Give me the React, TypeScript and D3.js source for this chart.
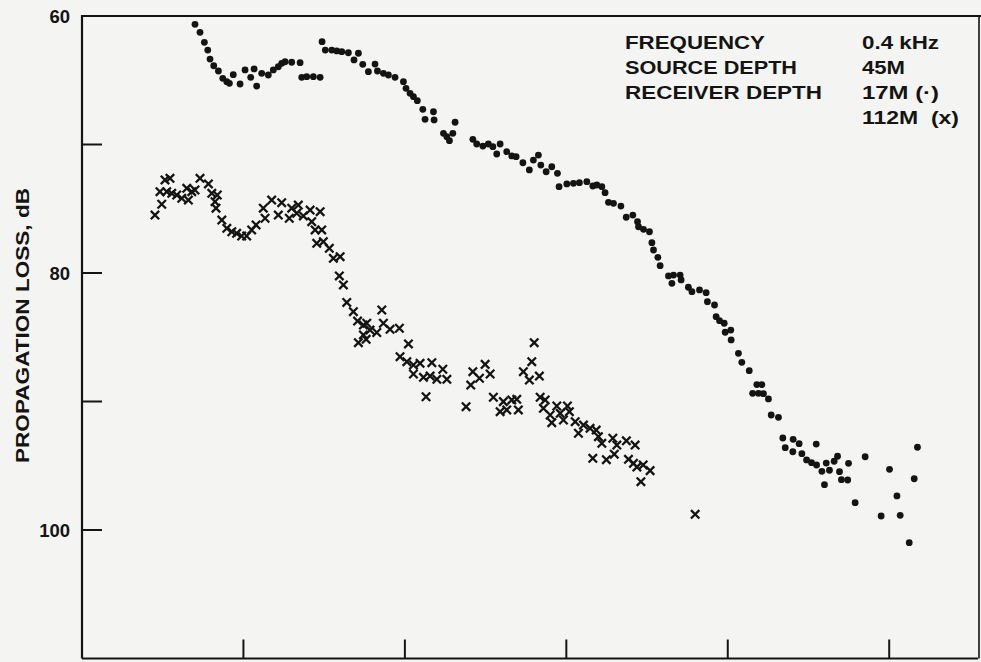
import React from "react";
import * as d3 from "d3";

const W = 981;
const H = 662;

// Receiver depth 17 m (dots): [range, propagation loss dB]
const dots17: [number, number][] = [
  [0.700, 60.65], [0.731, 61.27], [0.758, 62.05], [0.779, 62.65], [0.793, 63.35],
  [0.816, 63.87], [0.845, 64.28], [0.872, 64.85], [0.897, 65.11], [0.913, 65.24],
  [0.937, 64.57], [0.979, 65.29], [1.010, 64.20], [1.045, 64.77], [1.066, 64.12],
  [1.082, 65.45], [1.113, 64.46], [1.154, 64.59], [1.185, 64.20], [1.216, 63.95],
  [1.237, 63.68], [1.258, 63.56], [1.299, 63.60], [1.351, 63.63], [1.361, 64.77],
  [1.392, 64.72], [1.433, 64.72], [1.475, 64.77], [1.487, 62.00], [1.507, 62.65],
  [1.547, 62.65], [1.578, 62.72], [1.609, 62.78], [1.650, 62.86], [1.685, 63.42],
  [1.712, 62.90], [1.739, 63.76], [1.774, 64.33], [1.815, 63.74], [1.830, 64.28],
  [1.867, 64.46], [1.898, 64.59], [1.939, 64.77], [1.991, 65.11], [2.007, 65.63],
  [2.032, 66.02], [2.053, 66.28], [2.077, 66.59], [2.111, 67.26], [2.125, 68.04],
  [2.177, 67.45], [2.181, 68.09], [2.239, 69.13], [2.260, 69.39], [2.276, 69.70],
  [2.297, 69.13], [2.311, 68.27], [2.421, 69.60], [2.445, 69.96], [2.483, 70.12],
  [2.517, 69.96], [2.545, 70.17], [2.569, 70.74], [2.590, 69.96], [2.631, 70.56],
  [2.662, 70.89], [2.689, 70.95], [2.731, 71.42], [2.771, 71.98], [2.796, 71.21],
  [2.827, 70.82], [2.842, 71.60], [2.875, 72.12], [2.910, 71.73], [2.945, 72.24],
  [2.955, 73.28], [3.003, 73.07], [3.044, 73.02], [3.081, 72.97], [3.127, 72.89],
  [3.164, 73.23], [3.189, 73.15], [3.220, 73.28], [3.240, 73.75], [3.261, 74.50],
  [3.292, 74.58], [3.338, 74.79], [3.371, 75.66], [3.412, 75.49], [3.441, 76.01],
  [3.447, 76.40], [3.478, 76.60], [3.515, 76.79], [3.530, 77.64], [3.540, 78.21],
  [3.567, 78.78], [3.581, 79.43], [3.633, 80.23], [3.664, 80.16], [3.705, 80.16],
  [3.654, 80.80], [3.711, 80.54], [3.756, 81.11], [3.778, 81.45], [3.825, 81.32],
  [3.866, 81.53], [3.874, 82.23], [3.918, 82.49], [3.928, 83.40], [3.949, 83.71],
  [3.978, 83.91], [3.984, 84.61], [4.019, 84.44], [4.021, 85.21], [4.066, 86.25],
  [4.087, 86.95], [4.133, 87.60], [4.180, 88.68], [4.211, 88.68], [4.154, 89.36],
  [4.190, 89.36], [4.221, 89.39], [4.252, 89.80], [4.269, 91.05], [4.314, 91.23],
  [4.341, 92.84], [4.356, 93.59], [4.405, 92.94], [4.442, 93.28], [4.403, 93.91],
  [4.459, 94.06], [4.488, 94.55], [4.519, 94.76], [4.550, 94.94], [4.548, 93.31],
  [4.583, 95.43], [4.599, 96.47], [4.610, 94.79], [4.630, 95.35], [4.659, 94.65],
  [4.680, 94.26], [4.692, 95.46], [4.704, 96.08], [4.748, 94.81], [4.743, 96.11],
  [4.789, 97.87], [4.851, 94.30], [4.950, 98.91], [5.002, 95.28], [5.048, 97.35],
  [5.068, 98.86], [5.124, 100.99], [5.155, 96.01], [5.175, 93.56],
];

// Receiver depth 112 m (crosses)
const crosses112: [number, number][] = [
  [0.452, 75.49], [0.494, 74.65], [0.483, 73.67], [0.514, 72.76], [0.545, 72.63],
  [0.525, 73.67], [0.556, 73.80], [0.587, 73.93], [0.618, 74.19], [0.649, 73.41],
  [0.659, 74.32], [0.680, 73.67], [0.700, 73.54], [0.731, 72.63], [0.783, 73.07],
  [0.804, 73.80], [0.838, 73.93], [0.824, 74.45], [0.830, 74.96], [0.866, 75.88],
  [0.897, 76.52], [0.928, 76.79], [0.958, 76.91], [0.989, 77.12], [1.020, 77.12],
  [1.051, 76.65], [1.078, 76.26], [1.134, 75.74], [1.123, 74.96], [1.175, 74.32],
  [1.216, 75.49], [1.237, 74.53], [1.284, 75.74], [1.299, 74.96], [1.340, 74.71],
  [1.330, 75.35], [1.371, 75.56], [1.413, 75.10], [1.423, 76.01], [1.475, 75.23],
  [1.444, 76.65], [1.485, 76.65], [1.454, 77.69], [1.495, 77.56], [1.532, 78.08],
  [1.557, 78.86], [1.599, 78.73], [1.594, 80.23], [1.619, 80.93], [1.640, 82.29],
  [1.681, 83.01], [1.707, 83.74], [1.743, 84.05], [1.764, 83.91], [1.784, 84.44],
  [1.743, 84.82], [1.712, 85.42], [1.760, 85.16], [1.826, 84.63], [1.857, 82.88],
  [1.867, 83.91], [1.908, 84.38], [1.966, 84.30], [2.022, 85.52], [1.970, 86.51],
  [2.012, 86.90], [2.053, 87.16], [2.094, 87.03], [2.053, 87.86], [2.115, 88.12],
  [2.167, 86.98], [2.156, 88.02], [2.198, 88.27], [2.235, 87.49], [2.260, 88.27],
  [2.131, 89.63], [2.379, 90.40], [2.421, 87.68], [2.408, 88.72], [2.462, 88.19],
  [2.497, 87.11], [2.528, 87.86], [2.548, 89.67], [2.590, 90.79], [2.610, 90.01],
  [2.631, 90.66], [2.662, 89.88], [2.693, 89.83], [2.703, 90.66], [2.734, 87.68],
  [2.771, 88.33], [2.786, 86.90], [2.801, 85.42], [2.833, 88.02], [2.838, 89.67],
  [2.869, 89.88], [2.858, 90.53], [2.900, 91.05], [2.910, 91.65], [2.941, 90.35],
  [2.962, 90.92], [2.982, 91.44], [3.007, 90.35], [3.019, 90.79], [3.055, 91.57],
  [3.075, 92.47], [3.106, 91.83], [3.147, 92.09], [3.185, 92.22], [3.199, 92.74],
  [3.220, 93.25], [3.164, 94.42], [3.248, 94.53], [3.288, 92.86], [3.313, 93.39],
  [3.297, 94.10], [3.372, 93.06], [3.426, 93.39], [3.385, 94.50], [3.416, 94.81],
  [3.437, 95.10], [3.476, 94.94], [3.519, 95.38], [3.462, 96.24], [3.798, 98.78],
];

const yTicks = [70, 80, 90, 100];
const yTickLabels = [60, 80, 100];
const xTicks = [1, 2, 3, 4, 5];
const yAxisTitle = "PROPAGATION LOSS, dB";
const legendLabels = ["FREQUENCY", "SOURCE DEPTH", "RECEIVER DEPTH"];
const legendValues = ["0.4 kHz", "45M", "17M (·)", "112M  (x)"];

const INK = "#141414";
const FONT = "'Liberation Sans', Arial, sans-serif";

export default function App() {
  const x = d3.scaleLinear().domain([0, 5.55]).range([82, 978]);
  const y = d3.scaleLinear().domain([60, 110]).range([16, 658.5]);
  const x0 = x(0);
  const x1 = x(5.55);
  const y0 = y(60);
  const y1 = y(110);
  const cs = 4.2;

  const labelLens = [140, 172, 197];
  const valueLens = [77, 43, 77, 97];

  return (
    <svg
      width={W}
      height={H}
      style={{ position: "absolute", left: 0, top: 0, background: "#f4f4f2" }}
    >
      <rect x={0} y={0} width={W} height={H} fill="#f4f4f2" />
      {/* frame */}
      <path
        d={`M${x0},${y1} L${x0},${y0} L${W},${y0}`}
        fill="none"
        stroke={INK}
        strokeWidth={2.2}
      />
      <line x1={x0} y1={y1} x2={x1} y2={y1} stroke={INK} strokeWidth={2.2} />
      <line x1={x1 + 1} y1={y0} x2={x1 + 1} y2={y1} stroke={INK} strokeWidth={1.6} />

      {/* y ticks */}
      {yTicks.map((t) => (
        <line key={"yt" + t} x1={x0} x2={x0 + 20} y1={y(t)} y2={y(t)} stroke={INK} strokeWidth={2} />
      ))}
      {yTickLabels.map((t) => (
        <text
          key={"yl" + t}
          x={x0 - 12}
          y={y(t)}
          dy="0.36em"
          textAnchor="end"
          fontFamily={FONT}
          fontWeight="bold"
          fontSize={18.5}
          fill={INK}
        >
          {t}
        </text>
      ))}
      {/* x ticks */}
      {xTicks.map((t) => (
        <line key={"xt" + t} x1={x(t)} x2={x(t)} y1={y1} y2={y1 - 19} stroke={INK} strokeWidth={2} />
      ))}

      {/* y axis title */}
      <text
        transform={`translate(22.5,325.5) rotate(-90)`}
        textAnchor="middle"
        dy="0.36em"
        fontFamily={FONT}
        fontWeight="bold"
        fontSize={19}
        fill={INK}
        textLength={275}
        lengthAdjust="spacingAndGlyphs"
      >
        {yAxisTitle}
      </text>

      {/* legend / annotation */}
      {legendLabels.map((s, i) => (
        <text
          key={"ll" + i}
          x={625}
          y={43 + i * 25}
          dy="0.36em"
          fontFamily={FONT}
          fontWeight="bold"
          fontSize={18}
          fill={INK}
          textLength={labelLens[i]}
          lengthAdjust="spacingAndGlyphs"
        >
          {s}
        </text>
      ))}
      {legendValues.map((s, i) => (
        <text
          key={"lv" + i}
          x={862}
          y={43 + i * 25}
          dy="0.36em"
          fontFamily={FONT}
          fontWeight="bold"
          fontSize={18}
          fill={INK}
          textLength={valueLens[i]}
          lengthAdjust="spacingAndGlyphs"
          style={{ whiteSpace: "pre" }}
        >
          {s}
        </text>
      ))}

      {/* dots series */}
      {dots17.map((d, i) => (
        <circle key={"d" + i} cx={x(d[0])} cy={y(d[1])} r={3.4} fill={INK} />
      ))}
      {/* cross series */}
      {crosses112.map((d, i) => {
        const cx = x(d[0]);
        const cy = y(d[1]);
        return (
          <path
            key={"c" + i}
            d={`M${cx - cs},${cy - cs}L${cx + cs},${cy + cs}M${cx - cs},${cy + cs}L${cx + cs},${cy - cs}`}
            stroke={INK}
            strokeWidth={2.3}
            fill="none"
          />
        );
      })}
    </svg>
  );
}
